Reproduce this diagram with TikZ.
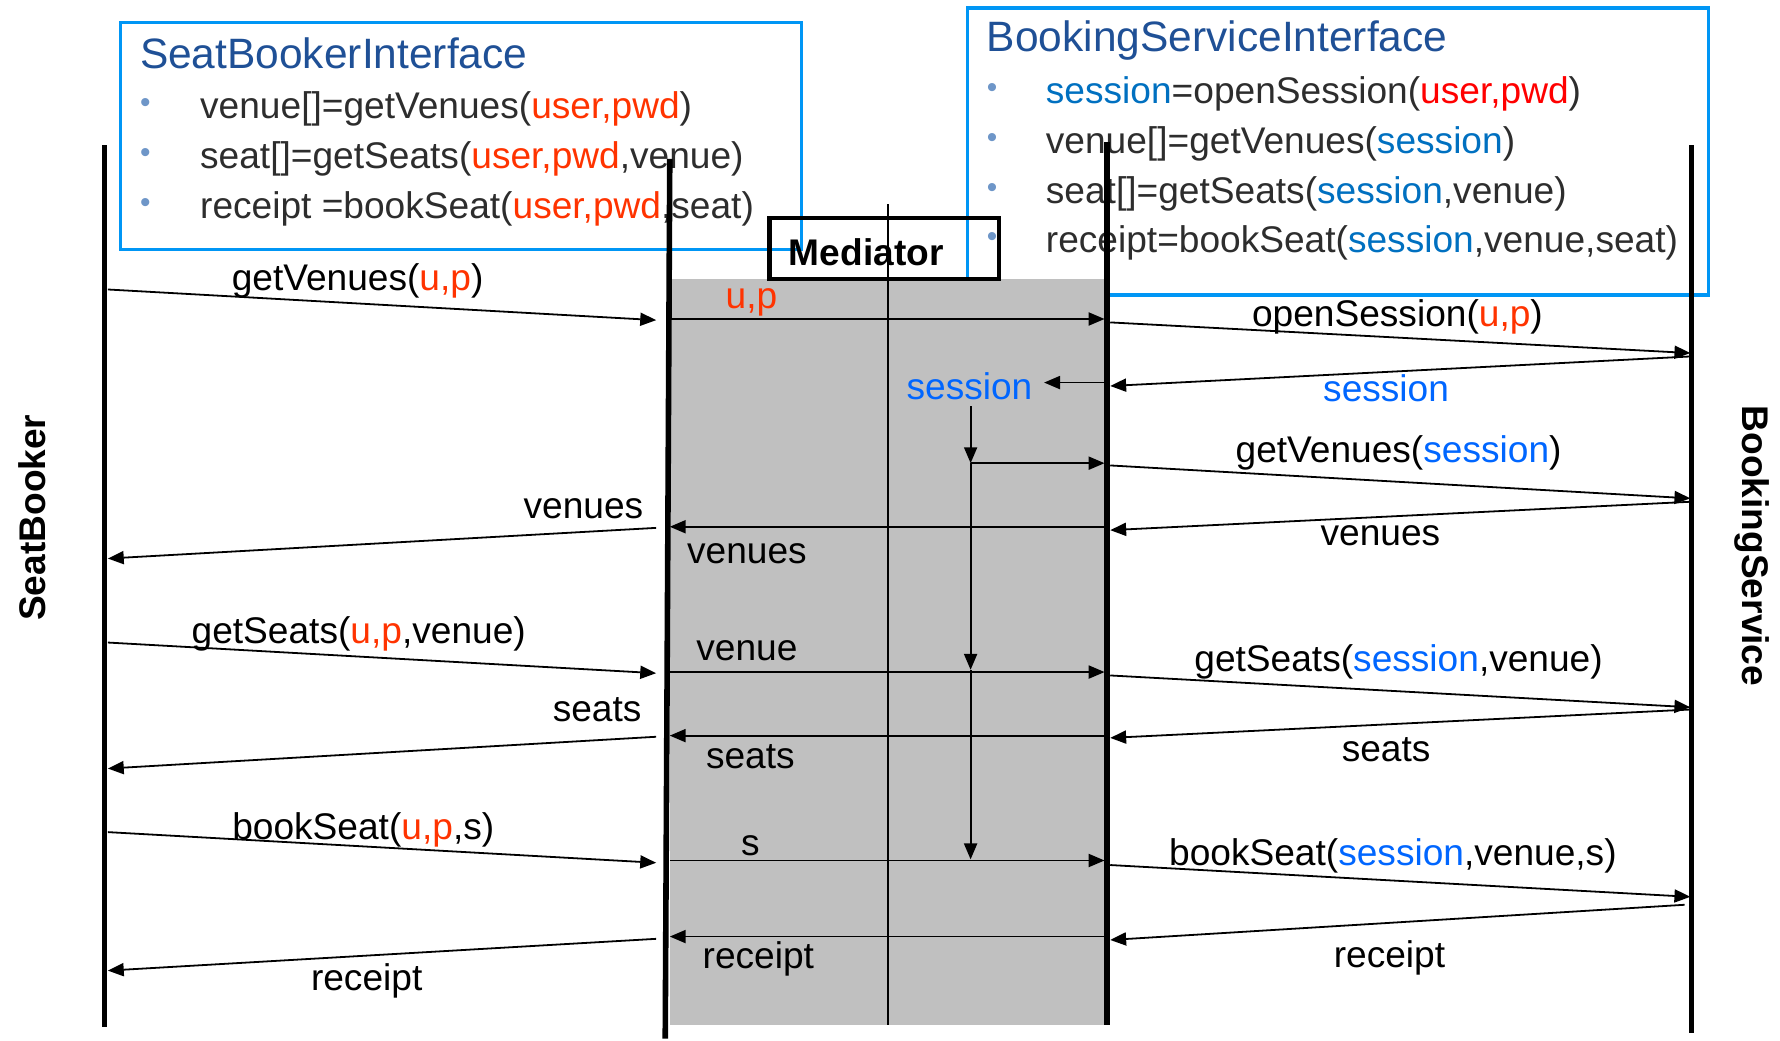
\documentclass[tikz,border=0pt]{standalone}
\usepackage{fontspec}
\setmainfont{Liberation Sans}
\usetikzlibrary{arrows.meta}

\definecolor{boxblue}{RGB}{0,150,245}
\definecolor{titleblue}{RGB}{31,80,150}
\definecolor{bulletblue}{RGB}{110,150,200}
\definecolor{itemgray}{RGB}{45,45,45}
\definecolor{upred}{RGB}{255,51,0}
\definecolor{pwdred}{RGB}{255,0,0}
\definecolor{sessbox}{RGB}{0,112,192}
\definecolor{sesslbl}{RGB}{0,102,255}
\definecolor{medgray}{RGB}{192,192,192}

\tikzset{
  lifeline/.style={line width=2.8pt},
  msg/.style={->, line width=0.9pt},
  lbl/.style={inner sep=0pt, text height=0.72em, text depth=0.2em, yshift=-0.12cm},
  ifbox/.style={draw=boxblue, line width=1.7pt},
  iftitle/.style={anchor=west, inner sep=0pt, text=titleblue, font=\fontsize{21.3}{25}\selectfont},
  ifitem/.style={anchor=west, inner sep=0pt, text=itemgray, yshift=-0.06cm},
  bul/.style={inner sep=0pt, text=bulletblue, font=\fontsize{15}{18}\selectfont},
  actor/.style={inner sep=0pt, font=\fontsize{18.6}{22}\selectfont\bfseries},
}

\begin{document}
\begin{tikzpicture}[x=0.02cm, y=-0.02cm, >={Triangle[length=0.28cm,width=0.23cm]},
  font=\fontsize{18.6}{22}\selectfont]
  \useasboundingbox (0,0) rectangle (1568,917);

  % interfaces
  \draw[ifbox] (106,20) rectangle (706,220);
  \node[iftitle] (sbiface) at (123,47) {SeatBookerInterface};
  \foreach \y in {93,137,181}
    \node[bul] at (128,\y) {•};
  \node[ifitem] (sbi1) at (176,93) {venue[]=getVenues(\textcolor{upred}{user,pwd})};
  \node[ifitem] (sbi2) at (176,137) {seat[]=getSeats(\textcolor{upred}{user,pwd},venue)};
  \node[ifitem] (sbi3) at (176,181) {receipt =bookSeat(\textcolor{upred}{user,pwd},seat)};

  \draw[ifbox] (852,7) rectangle (1505,260);
  \node[iftitle] (bsiface) at (869,36) {BookingServiceInterface};
  \foreach \y in {80,124,168,211}
    \node[bul] at (874,\y) {•};
  \node[ifitem] (bsi1) at (921,80) {\textcolor{sessbox}{session}=openSession(\textcolor{pwdred}{user,pwd})};
  \node[ifitem] (bsi2) at (921,124) {venue[]=getVenues(\textcolor{sessbox}{session})};
  \node[ifitem] (bsi3) at (921,168) {seat[]=getSeats(\textcolor{sessbox}{session},venue)};
  \node[ifitem] (bsi4) at (921,211) {receipt=bookSeat(\textcolor{sessbox}{session},venue,seat)};

  % mediator
  \fill[medgray] (590,246) rectangle (975,903);
  \draw[line width=0.8pt] (782,180) -- (782,903);
  \draw[line width=2.2pt] (678,192) rectangle (880,246);
  \node[actor] (mediator) at (763,222) {Mediator};

  % lifelines
  \coordinate (sbtop) at (92,128);   \coordinate (sbbot) at (92,905);
  \coordinate (mltop) at (590,140);  \coordinate (mlbot) at (586,915);
  \coordinate (mrtop) at (975,125);  \coordinate (mrbot) at (975,903);
  \coordinate (bstop) at (1490,128); \coordinate (bsbot) at (1490,910);
  \draw[lifeline] (sbtop) -- (sbbot);
  \draw[lifeline] (mltop) -- (mlbot);
  \draw[lifeline] (mrtop) -- (mrbot);
  \draw[lifeline] (bstop) -- (bsbot);
  \node[actor, rotate=90] (seatbooker) at (28,456) {SeatBooker};
  \node[actor, rotate=-90] (bookingsvc) at (1543,481) {BookingService};

  % getVenues
  \draw[msg] (95,255) -- (578,282);
  \node[lbl] (m1) at (315,245) {getVenues(\textcolor{upred}{u,p})};
  \draw[msg] (590,281) -- (973,281);
  \node[lbl, text=upred] (m2) at (662,261) {u,p};
  \draw[msg] (978,284) -- (1489,311);
  \node[lbl] (m3) at (1231,277) {openSession(\textcolor{upred}{u,p})};
  \draw[msg] (1489,314) -- (978,340);
  \node[lbl, text=sesslbl] (m4) at (1221,343) {session};
  \node[lbl, text=sesslbl] (msess) at (854,341) {session};
  \draw[msg] (973,337) -- ([xshift=0.2cm]msess.east |- 0,337);
  \coordinate (sk1) at (855,408);
  \coordinate (sk2) at (855,590);
  \coordinate (sk3) at (855,757);
  \draw[msg] (855,358) -- (sk1);
  \draw[msg] (sk1) -- (sk2);
  \draw[msg] (sk2) -- (sk3);
  \draw[msg] (sk1) -- (973,408);
  \draw[msg] (978,410) -- (1489,439);
  \node[lbl] (m5) at (1232,397) {getVenues(\textcolor{sesslbl}{session})};
  \draw[msg] (1489,442) -- (978,467);
  \node[lbl] (m6) at (1216,470) {venues};
  \draw[msg] (973,464) -- (590,464);
  \node[lbl] (m7) at (658,486) {venues};
  \draw[msg] (578,465) -- (95,492);
  \node[lbl] (m8) at (514,446) {venues};

  % getSeats
  \draw[msg] (95,566) -- (578,593);
  \node[lbl] (m9) at (316,556) {getSeats(\textcolor{upred}{u,p},venue)};
  \draw[msg] (590,592) -- (973,592);
  \node[lbl] (m10) at (658,571) {venue};
  \draw[msg] (978,595) -- (1489,623);
  \node[lbl] (m11) at (1232,581) {getSeats(\textcolor{sesslbl}{session},venue)};
  \draw[msg] (1489,625) -- (978,650);
  \node[lbl] (m12) at (1221,660) {seats};
  \draw[msg] (973,648) -- (590,648);
  \node[lbl] (m13) at (661,666) {seats};
  \draw[msg] (578,649) -- (95,677);
  \node[lbl] (m14) at (526,625) {seats};

  % bookSeat
  \draw[msg] (95,733) -- (578,760);
  \node[lbl] (m15) at (320,729) {bookSeat(\textcolor{upred}{u,p},s)};
  \draw[msg] (590,758) -- (973,758);
  \node[lbl] (m16) at (661,743) {s};
  \draw[msg] (978,762) -- (1489,790);
  \node[lbl] (m17) at (1227,752) {bookSeat(\textcolor{sesslbl}{session},venue,s)};
  \draw[msg] (1484,797) -- (978,828);
  \node[lbl] (m18) at (1224,842) {receipt};
  \draw[msg] (973,825) -- (590,825);
  \node[lbl] (m19) at (668,843) {receipt};
  \draw[msg] (578,827) -- (95,855);
  \node[lbl] (m20) at (323,862) {receipt};
\end{tikzpicture}
\end{document}
